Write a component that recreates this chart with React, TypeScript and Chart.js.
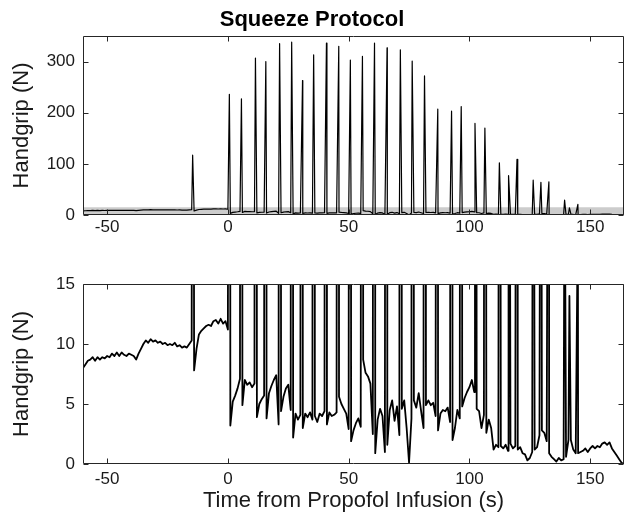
import React, { useEffect, useRef } from "react";
import { Chart, registerables } from "chart.js";

Chart.register(...registerables);

const FONT = "'Liberation Sans', Arial, Helvetica, sans-serif";
const TEXT = "#1a1a1a";
const AXIS = "#262626";

// axes
const xTicks = [-50, 0, 50, 100, 150];
const xMin = -60;
const xMax = 164;
const topYTicks = [0, 100, 200, 300];
const topYMax = 350;
const bottomYTicks = [0, 5, 10, 15];
const bottomYMax = 15;
const shadedMax = 15; // grey band on the top panel = range of the bottom panel

// resting handgrip force (N), one sample per second from t = -60 s
const baselineStart = -60;
const baselineGrip = [
  8.0, 8.3, 8.6, 8.7, 8.9, 8.6, 8.9, 8.7, 8.9, 8.8,
  9.0, 8.9, 9.2, 9.0, 9.3, 9.0, 9.3, 9.1, 9.0, 9.2,
  9.1, 9.0, 8.7, 9.2, 9.6, 10.0, 10.3, 10.1, 10.4, 10.2,
  10.3, 10.1, 10.2, 10.0, 10.1, 9.9, 10.0, 9.9, 10.1, 9.8,
  9.9, 9.7, 9.8, 9.7, 10.0, 10.3, 7.8, 9.6, 10.8, 11.1,
  11.3, 11.5, 11.6, 11.5, 11.9, 12.0, 11.7, 12.1, 11.7, 11.9,
  11.2, 3.2, 5.2, 5.7, 6.3, 7.1, 4.9, 7.0, 6.6, 6.8,
  6.4, 6.7, 3.9, 5.0, 5.4, 5.7, 3.8, 5.9, 6.5, 7.0,
  7.4, 3.3, 4.4, 5.6, 6.3, 6.6, 4.5, 2.2, 4.2, 3.7,
  4.1, 3.0, 4.2, 3.9, 4.3, 3.7, 4.0, 3.5, 4.2, 4.0,
  4.4, 3.3, 4.3, 4.0, 4.1, 4.3, 5.6, 5.0, 4.6, 4.2,
  2.9, 1.9, 2.8, 3.4, 3.8, 3.1, 8.7, 7.6, 7.3, 6.7,
  2.5, 0.9, 3.7, 4.6, 4.0, 1.0, 1.6, 4.5, 5.3, 3.6,
  4.8, 2.4, 4.6, 5.3, 3.0, 0.1, 3.8, 5.3, 4.7, 5.9,
  4.4, 3.0, 4.9, 5.3, 4.9, 5.1, 4.0, 2.8, 4.2, 4.5,
  4.4, 4.7, 3.5, 2.0, 3.0, 4.5, 3.8, 4.8, 5.5, 6.0,
  6.4, 7.0, 6.0, 4.6, 4.4, 3.0, 4.1, 2.6, 3.7, 3.0,
  1.2, 1.6, 1.4, 1.5, 1.3, 1.6, 1.1, 1.7, 1.3, 1.5,
  1.2, 1.4, 0.9, 0.8, 0.3, 0.5, 1.0, 1.2, 1.4, 2.4,
  2.8, 2.6, 1.9, 0.9, 0.6, 0.4, 0.2, 0.5, 0.3, 0.4,
  0.6, 2.0, 2.0, 1.2, 0.9, 0.9, 1.0, 1.1, 1.3, 1.0,
  1.3, 1.5, 1.3, 1.5, 1.4, 1.7, 1.8, 1.6, 1.8, 1.3,
  1.0, 0.7, 0.4, 0.1, 0.0,
];

// squeezes: time (s) and peak force (N)
const squeezeTimes = [
  -14.6, 0.6, 5.6, 11.4, 15.7, 21.4, 26.4, 30.9, 35.5, 40.8, 45.9, 50.7, 55.7,
  60.7, 65.9, 71.4, 76.3, 81.4, 86.9, 92.6, 96.6, 102.3, 106.4, 112.4, 116.2,
  119.7, 126.4, 129.6, 132.9, 139.4, 141.4, 144.9,
];
const squeezePeaks = [
  117, 236, 227, 307, 300, 335, 338, 263, 313, 336, 330, 303, 310,
  336, 327, 323, 301, 272, 207, 203, 212, 179, 170, 102, 77,
  109, 68, 64, 65, 29, 14, 21,
];

function buildSeries() {
  const pts = baselineGrip.map((y, i) => ({ x: baselineStart + i, y }));
  squeezeTimes.forEach((t, i) => pts.push({ x: t, y: squeezePeaks[i] }));
  pts.sort((a, b) => a.x - b.x);
  return pts;
}

const boxPlugin = {
  id: "matlabBox",
  afterDatasetsDraw(chart: any) {
    const { ctx, chartArea: a, scales } = chart;
    const L = 5;
    ctx.save();
    ctx.strokeStyle = AXIS;
    ctx.lineWidth = 1;
    const l = Math.round(a.left) + 0.5;
    const r = Math.round(a.right) - 0.5;
    const t = Math.round(a.top) + 0.5;
    const b = Math.round(a.bottom) - 0.5;
    ctx.beginPath();
    ctx.rect(l, t, r - l, b - t);
    for (const tk of scales.x.ticks) {
      const px = Math.round(scales.x.getPixelForValue(tk.value)) + 0.5;
      ctx.moveTo(px, b);
      ctx.lineTo(px, b - L);
      ctx.moveTo(px, t);
      ctx.lineTo(px, t + L);
    }
    for (const tk of scales.y.ticks) {
      const py = Math.round(scales.y.getPixelForValue(tk.value)) + 0.5;
      ctx.moveTo(l, py);
      ctx.lineTo(l + L, py);
      ctx.moveTo(r, py);
      ctx.lineTo(r - L, py);
    }
    ctx.stroke();
    ctx.restore();
  },
};

function xScale(labelPad: number, scaleHeight: number, withTitle: boolean) {
  return {
    type: "linear",
    min: xMin,
    max: xMax,
    afterBuildTicks: (s: any) => {
      s.ticks = xTicks.map((v) => ({ value: v }));
    },
    afterFit: (s: any) => {
      s.height = scaleHeight;
    },
    grid: { display: false, drawTicks: false },
    border: { display: false },
    ticks: {
      font: { family: FONT, size: 17 },
      color: TEXT,
      padding: labelPad,
      maxRotation: 0,
      autoSkip: false,
      callback: (v: any) => String(v),
    },
    title: withTitle
      ? {
          display: true,
          text: "Time from Propofol Infusion (s)",
          font: { family: FONT, size: 22 },
          color: TEXT,
          padding: { top: 0, bottom: 9 },
        }
      : { display: false },
  };
}

function yScale(max: number, ticks: number[]) {
  return {
    type: "linear",
    min: 0,
    max,
    afterBuildTicks: (s: any) => {
      s.ticks = ticks.map((v) => ({ value: v }));
    },
    afterFit: (s: any) => {
      s.width = 83;
    },
    grid: { display: false, drawTicks: false },
    border: { display: false },
    ticks: {
      font: { family: FONT, size: 17 },
      color: TEXT,
      padding: 8,
      callback: (v: any) => String(v),
    },
    title: {
      display: true,
      text: "Handgrip (N)",
      font: { family: FONT, size: 22 },
      color: TEXT,
      padding: { top: 9, bottom: 0 },
    },
  };
}

export default function App() {
  const topRef = useRef<HTMLCanvasElement>(null);
  const bottomRef = useRef<HTMLCanvasElement>(null);

  useEffect(() => {
    const series = buildSeries();
    const common = {
      animation: false,
      responsive: false,
      events: [],
      elements: { point: { radius: 0 }, line: { tension: 0 } },
    };
    const top = new Chart(topRef.current as HTMLCanvasElement, {
      type: "line",
      data: {
        datasets: [
          {
            data: series,
            borderColor: "#000000",
            borderWidth: 1.2,
            borderJoinStyle: "round",
            fill: false,
            pointRadius: 0,
          },
          {
            data: [
              { x: xMin, y: shadedMax },
              { x: xMax, y: shadedMax },
            ],
            borderColor: "rgba(0,0,0,0)",
            borderWidth: 0,
            backgroundColor: "#cccccc",
            fill: "origin",
            pointRadius: 0,
          },
        ],
      },
      options: {
        ...common,
        layout: { padding: { left: 0, right: 1, top: 0, bottom: 0 } },
        scales: {
          x: xScale(2.5, 30, false),
          y: yScale(topYMax, topYTicks),
        },
        plugins: {
          legend: { display: false },
          tooltip: { enabled: false },
          title: {
            display: true,
            text: "Squeeze Protocol",
            font: { family: FONT, size: 22, weight: "bold", lineHeight: 1.2 },
            color: "#000000",
            padding: { top: 7, bottom: 2.6 },
          },
        },
      } as any,
      plugins: [boxPlugin],
    } as any);

    const bottom = new Chart(bottomRef.current as HTMLCanvasElement, {
      type: "line",
      data: {
        datasets: [
          {
            data: series,
            borderColor: "#000000",
            borderWidth: 1.8,
            borderJoinStyle: "round",
            fill: false,
            pointRadius: 0,
          },
        ],
      },
      options: {
        ...common,
        layout: { padding: { left: 0, right: 1, top: 39, bottom: 0 } },
        scales: {
          x: xScale(5, 59, true),
          y: yScale(bottomYMax, bottomYTicks),
        },
        plugins: {
          legend: { display: false },
          tooltip: { enabled: false },
          title: { display: false },
        },
      } as any,
      plugins: [boxPlugin],
    } as any);

    return () => {
      top.destroy();
      bottom.destroy();
    };
  }, []);

  return (
    <div
      style={{
        position: "fixed",
        left: 0,
        top: 0,
        width: 625,
        height: 523,
        background: "#ffffff",
      }}
    >
      <canvas
        ref={topRef}
        width={625}
        height={245}
        style={{ position: "absolute", left: 0, top: 0, width: 625, height: 245 }}
      />
      <canvas
        ref={bottomRef}
        width={625}
        height={278}
        style={{ position: "absolute", left: 0, top: 245, width: 625, height: 278 }}
      />
    </div>
  );
}
